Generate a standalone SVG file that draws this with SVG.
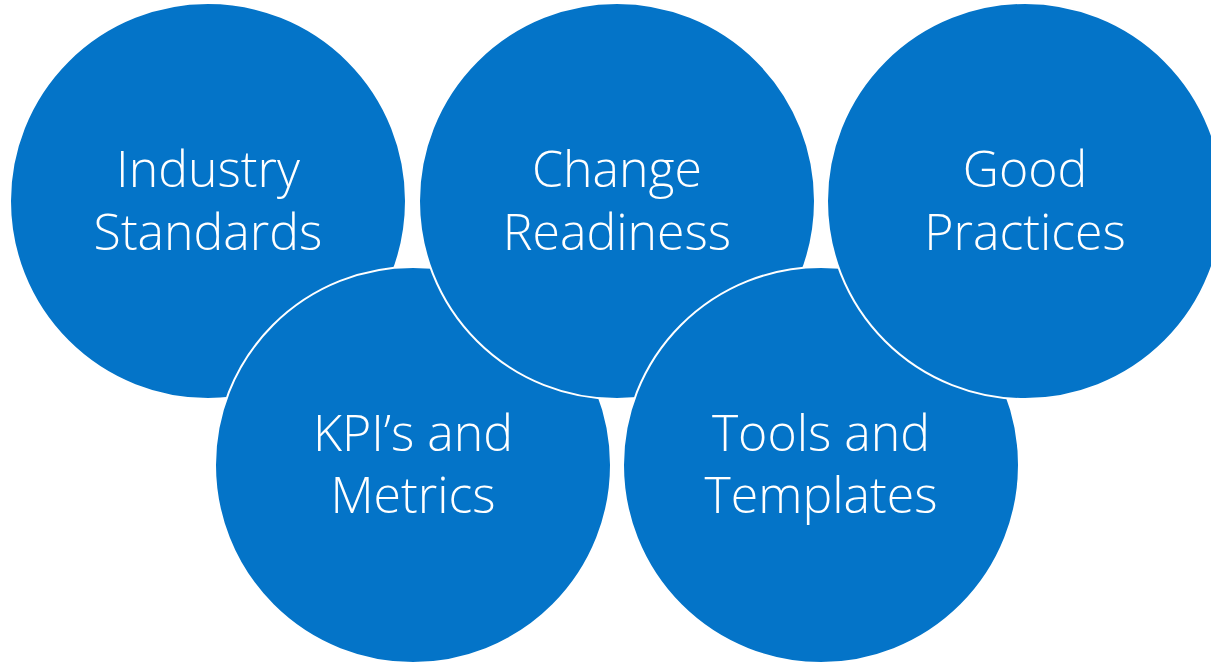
<svg xmlns="http://www.w3.org/2000/svg" width="1211" height="663" viewBox="0 0 1211 663">
<style>
.c{fill:#0474C8;stroke:#FFFFFF;stroke-width:2}
.t{font-family:"Open Sans","Liberation Sans",sans-serif;font-weight:300;font-size:50px;fill:#FFFFFF;text-anchor:middle}
</style>
<rect width="1211" height="663" fill="#FFFFFF"/>
<g id="connectors"></g>
<g id="node-industry">
<circle class="c" cx="208" cy="201" r="198"/>
<text class="t" x="208" y="187">Industry</text>
<text class="t" x="208" y="250">Standards</text>
</g>
<g id="node-kpi">
<circle class="c" cx="413" cy="465" r="198"/>
<text class="t" x="413" y="451">KPI’s and</text>
<text class="t" x="413" y="513">Metrics</text>
</g>
<g id="node-change">
<circle class="c" cx="617" cy="201" r="198"/>
<text class="t" x="617" y="187">Change</text>
<text class="t" x="617" y="250">Readiness</text>
</g>
<g id="node-tools">
<circle class="c" cx="821" cy="465" r="198"/>
<text class="t" x="821" y="451">Tools and</text>
<text class="t" x="821" y="513">Templates</text>
</g>
<g id="node-good">
<circle class="c" cx="1025" cy="201" r="198"/>
<text class="t" x="1025" y="187">Good</text>
<text class="t" x="1025" y="250">Practices</text>
</g>
</svg>
